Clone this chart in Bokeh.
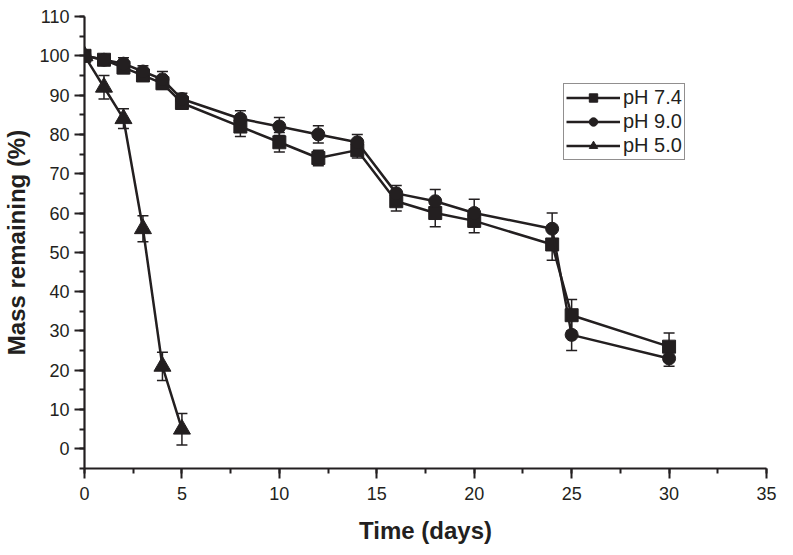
from bokeh.plotting import figure
from bokeh.models import (ColumnDataSource, Whisker, TeeHead, Range1d, SingleIntervalTicker,
                          Legend, LegendItem)
from bokeh.embed import file_html
from bokeh.resources import INLINE

# ---- data ----
days_74 = [0, 1, 2, 3, 4, 5, 8, 10, 12, 14, 16, 18, 20, 24, 25, 30]
mass_74 = [100, 99, 97, 95, 93, 88, 82, 78, 74, 76, 63, 60, 58, 52, 34, 26]
err_74 = [0.5, 1, 1.5, 1.5, 1.5, 1.5, 2.5, 2.5, 2, 2, 2.5, 3.5, 3, 4, 4, 3.5]

days_90 = [0, 1, 2, 3, 4, 5, 8, 10, 12, 14, 16, 18, 20, 24, 25, 30]
mass_90 = [100, 99, 98, 96, 94, 89, 84, 82, 80, 78, 65, 63, 60, 56, 29, 23]
err_90 = [0.5, 1, 1.5, 1.5, 2, 1.5, 2, 2.3, 2.2, 2, 2, 3, 3.5, 4, 4, 2]

days_50 = [0, 1, 2, 3, 4, 5]
mass_50 = [100, 92, 84, 56, 21, 5]
err_50 = [0.5, 3, 2.5, 3.3, 3.6, 4]

labels = ["pH 7.4", "pH 9.0", "pH 5.0"]
x_ticks_interval = 5
y_ticks_interval = 10

INK = "#231f20"
FONT = "Liberation Sans"

p = figure(frame_width=682, frame_height=452, output_backend="svg", toolbar_location=None,
           x_range=Range1d(0, 35), y_range=Range1d(-5, 110),
           min_border_left=82, min_border_right=13, min_border_top=16, min_border_bottom=66)
p.outline_line_color = None
p.xgrid.visible = False
p.ygrid.visible = False
p.background_fill_color = "white"

p.xaxis.ticker = SingleIntervalTicker(interval=x_ticks_interval, num_minor_ticks=2)
p.yaxis.ticker = SingleIntervalTicker(interval=y_ticks_interval, num_minor_ticks=2)

for ax in (p.xaxis[0], p.yaxis[0]):
    ax.axis_line_width = 2.2
    ax.axis_line_color = INK
    ax.major_tick_line_color = INK
    ax.minor_tick_line_color = INK
    ax.major_tick_line_width = 2
    ax.minor_tick_line_width = 2
    ax.major_tick_out = 10
    ax.major_tick_in = 0
    ax.minor_tick_out = 5
    ax.minor_tick_in = 0
    ax.major_label_text_font = FONT
    ax.major_label_text_font_size = "18px"
    ax.major_label_text_color = INK
    ax.axis_label_text_font = FONT
    ax.axis_label_text_font_style = "bold"
    ax.axis_label_text_font_size = "24px"
    ax.axis_label_text_color = INK

p.xaxis.axis_label = "Time (days)"
p.yaxis.axis_label = "Mass remaining (%)"
p.xaxis.major_label_standoff = 8
p.xaxis.axis_label_standoff = 14
p.yaxis.major_label_standoff = 5
p.yaxis.axis_label_standoff = 6

series = [
    (days_74, mass_74, err_74, "square", 13),
    (days_90, mass_90, err_90, "circle", 13),
    (days_50, mass_50, err_50, "triangle", 17),
]

items = []
for (xs, ys, es, marker, size), lab in zip(series, labels):
    src = ColumnDataSource(dict(x=xs, y=ys,
                                upper=[a + b for a, b in zip(ys, es)],
                                lower=[a - b for a, b in zip(ys, es)]))
    w = Whisker(source=src, base="x", upper="upper", lower="lower", dimension="height",
                line_color=INK, line_width=1.5, level="underlay",
                upper_head=TeeHead(size=11, line_color=INK, line_width=1.5),
                lower_head=TeeHead(size=11, line_color=INK, line_width=1.5))
    p.add_layout(w)
    ln = p.line("x", "y", source=src, line_color=INK, line_width=2.5)
    sc = p.scatter("x", "y", source=src, marker=marker, size=size,
                   fill_color=INK, line_color=INK)
    items.append(LegendItem(label=lab, renderers=[ln, sc]))

legend = Legend(items=items, location=(479, 308), padding=2, spacing=1,
                glyph_width=54, glyph_height=21, label_height=21, label_standoff=3,
                label_text_font=FONT, label_text_font_size="20px", label_text_color=INK,
                border_line_color=INK, border_line_width=1.5, margin=0,
                background_fill_alpha=1.0)
p.add_layout(legend, "center")

open("out.html", "w").write(file_html(p, INLINE))
